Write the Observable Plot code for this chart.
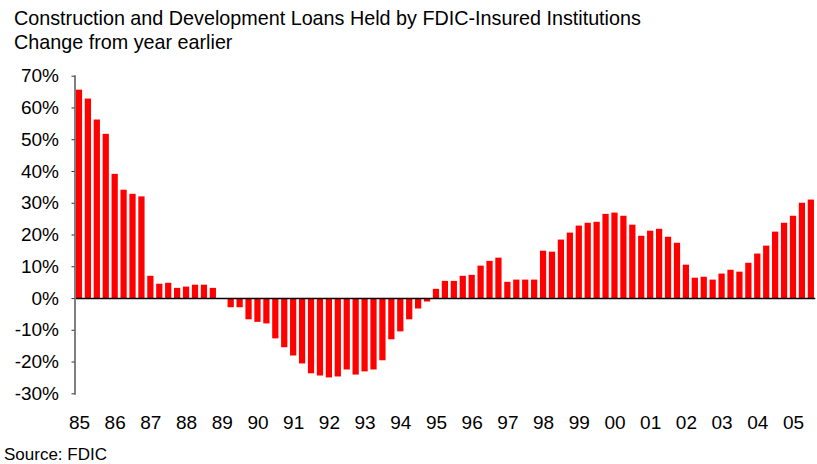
<!DOCTYPE html>
<html>
<head>
<meta charset="utf-8">
<script src="https://cdn.jsdelivr.net/npm/d3@7"></script>
<script src="https://cdn.jsdelivr.net/npm/@observablehq/plot@0.6"></script>
<style>
  html, body { margin: 0; padding: 0; background: #fff; }
  body { width: 817px; height: 464px; overflow: hidden; font-family: Arial, "Liberation Sans", sans-serif; color: #000; }
  #title { height: 58px; box-sizing: border-box; padding: 6px 0 0 14px; font-size: 19.75px; line-height: 24px; white-space: nowrap; }
  #chart svg { display: block; }
  #caption { height: 30px; box-sizing: border-box; padding: 11px 0 0 4px; font-size: 17px; line-height: 20px; }
</style>
</head>
<body>
<div id="title">Construction and Development Loans Held by FDIC-Insured Institutions<br>Change from year earlier</div>
<div id="chart"></div>
<div id="caption">Source: FDIC</div>
<script>
// Year tick labels (one per year, shown at the first quarter)
const yearLabels = ["85","86","87","88","89","90","91","92","93","94","95","96","97","98","99","00","01","02","03","04","05"];

// Quarterly % change from year earlier, 1985Q1 .. 2005Q3
const changePct = [
  65.6, 62.8, 56.2, 51.7,   // 85
  39.1, 34.1, 32.8, 32.0,   // 86
   7.0,  4.5,  4.8,  3.2,   // 87
   3.6,  4.2,  4.2,  3.2,   // 88
   0.0, -2.9, -2.9, -6.7,   // 89
  -7.5, -8.0, -12.7, -15.5, // 90
  -18.1, -20.6, -23.7, -24.4, // 91
  -25.0, -24.7, -22.5, -24.1, // 92
  -23.1, -22.5, -19.6, -13.0, // 93
  -10.5, -6.7, -3.3, -1.1,  // 94
   2.9,  5.4,  5.4,  7.0,   // 95
   7.3, 10.2, 11.7, 12.7,   // 96
   5.1,  5.8,  5.8,  5.8,   // 97
  14.9, 14.6, 18.4, 20.6,   // 98
  22.8, 23.7, 24.0, 26.5,   // 99
  26.9, 25.9, 23.1, 19.6,   // 00
  21.2, 21.8, 19.3, 17.4,   // 01
  10.5,  6.4,  6.7,  5.8,   // 02
   7.7,  8.9,  8.3, 11.1,   // 03
  14.0, 16.5, 20.9, 23.7,   // 04
  25.9, 30.0, 31.0          // 05
];

const yTicks = [-30, -20, -10, 0, 10, 20, 30, 40, 50, 60, 70];

const data = changePct.map((v, i) => ({
  q: yearLabels[Math.floor(i / 4)] + "Q" + (i % 4 + 1),
  v
}));

const chart = Plot.plot({
  width: 817,
  height: 376,
  marginLeft: 74.5,
  marginRight: 1.7,
  marginTop: 17.7,
  marginBottom: 40.7,
  style: { fontFamily: "Arial, 'Liberation Sans', sans-serif", fontSize: "19px", color: "#000", background: "#fff", overflow: "visible" },
  x: { domain: data.map(d => d.q), paddingInner: 0.3, paddingOuter: 0.15, align: 0.5, axis: null },
  y: { domain: [-30, 70], axis: null },
  marks: [
    Plot.barY(data, { x: "q", y: "v", fill: "#ff0000" }),
    Plot.ruleY([0], { stroke: "#000", strokeWidth: 1.5 }),
    Plot.frame({ anchor: "left", stroke: "#808080", strokeWidth: 2 }),
    Plot.axisY({ ticks: yTicks, tickSize: 3, tickPadding: 13, tickFormat: d => d + "%", stroke: "#333", label: null }),
    Plot.axisX({ ticks: yearLabels.map(y => y + "Q1"), tickSize: 0, tickPadding: 22, tickFormat: d => d.slice(0, 2), label: null })
  ]
});
document.getElementById("chart").appendChild(chart);
</script>
</body>
</html>
